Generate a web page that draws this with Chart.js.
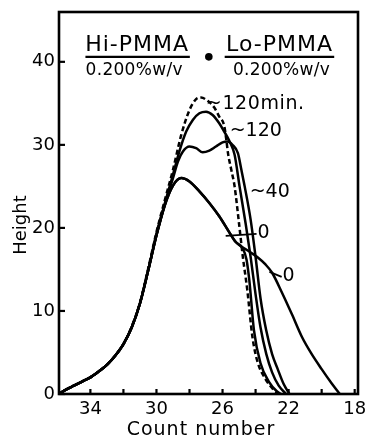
<!DOCTYPE html>
<html>
<head>
<meta charset="utf-8">
<script src="https://cdn.jsdelivr.net/npm/chart.js@4/dist/chart.umd.min.js"></script>
<style>
  html, body { margin: 0; padding: 0; background: #fff; }
  #wrap { width: 365px; height: 439px; position: relative; }
</style>
</head>
<body>
<div id="wrap"><canvas id="c"></canvas></div>
<script>
// ---- data ----
const xTickLabels = [34, 30, 26, 22, 18];
const xMinorTicks = [34, 32, 30, 28, 26, 24, 22, 20, 18];
const yTickLabels = [0, 10, 20, 30, 40];

// dashed "120 min." curve
const dash120X = [35.9, 35.5, 35.0, 34.5, 34.0, 33.5, 33.0, 32.5, 32.0, 31.5, 31.0, 30.5, 30.0, 29.5, 29.0, 28.5, 28.0, 27.6, 27.3, 26.9, 26.5, 26.2, 25.9, 25.77, 25.67, 25.47, 25.27, 25.0, 24.77, 24.5, 24.2, 23.9, 23.4, 22.9, 22.6];
const dash120Y = [0, 0.5, 1.0, 1.5, 2.0, 2.7, 3.5, 4.6, 6.0, 8.1, 11.0, 15.1, 19.5, 23.3, 27.0, 31.2, 34.2, 35.5, 35.7, 35.3, 34.5, 33.4, 32.3, 30.6, 29.0, 27.0, 25.0, 20.5, 16.5, 12.5, 7.0, 4.0, 1.8, 0.5, 0];

// solid "120"
const sol120X = [35.9, 35.5, 35.0, 34.5, 34.0, 33.5, 33.0, 32.5, 32.0, 31.5, 31.0, 30.5, 30.0, 29.5, 29.0, 28.6, 28.2, 27.8, 27.4, 27.0, 26.6, 26.2, 25.9, 25.57, 25.27, 24.97, 24.6, 24.3, 24.0, 23.7, 23.35, 23.0, 22.6, 22.15];
const sol120Y = [0, 0.5, 1.0, 1.5, 2.0, 2.7, 3.5, 4.6, 6.0, 8.0, 10.9, 14.9, 19.2, 22.9, 26.4, 29.3, 31.6, 33.0, 33.8, 34.0, 33.6, 32.6, 31.6, 30.4, 28.8, 25.0, 20.5, 16.5, 12.0, 8.0, 4.8, 2.6, 1.0, 0];

// solid "40"
const sol40X = [35.9, 35.5, 35.0, 34.5, 34.0, 33.5, 33.0, 32.5, 32.0, 31.5, 31.0, 30.5, 30.0, 29.5, 29.0, 28.7, 28.4, 28.0, 27.6, 27.2, 26.8, 26.4, 26.0, 25.7, 25.4, 25.07, 24.86, 24.66, 24.3, 24.0, 23.7, 23.36, 23.0, 22.66, 22.3, 21.95];
const sol40Y = [0, 0.5, 1.0, 1.5, 2.0, 2.7, 3.5, 4.6, 6.0, 8.0, 10.9, 14.9, 19.2, 22.8, 26.0, 28.0, 29.2, 29.8, 29.6, 29.1, 29.3, 29.8, 30.3, 30.4, 30.0, 29.0, 27.0, 25.0, 21.0, 16.5, 11.5, 7.7, 4.8, 3.0, 1.2, 0];

// solid "0" (shoulder, then steep drop)
const sol0aX = [35.9, 35.5, 35.0, 34.5, 34.0, 33.5, 33.0, 32.5, 32.0, 31.5, 31.0, 30.5, 30.0, 29.5, 29.0, 28.5, 28.0, 27.4, 26.8, 26.2, 25.6, 25.2, 24.8, 24.55, 24.38, 24.1, 23.7, 23.2, 22.7, 22.45];
const sol0aY = [0, 0.5, 1.0, 1.5, 2.0, 2.7, 3.5, 4.6, 6.0, 8.0, 10.9, 14.9, 19.1, 22.7, 25.1, 26.0, 25.6, 24.4, 23.0, 21.4, 19.5, 18.3, 17.6, 16.2, 13.7, 7.7, 3.7, 1.5, 0.3, 0];

// solid "0" (wide tail)
const sol0bX = [35.9, 35.5, 35.0, 34.5, 34.0, 33.5, 33.0, 32.5, 32.0, 31.5, 31.0, 30.5, 30.0, 29.5, 29.0, 28.5, 28.0, 27.4, 26.8, 26.2, 25.6, 25.2, 24.5, 23.9, 23.4, 23.0, 22.4, 21.8, 21.2, 20.6, 20.0, 19.4, 18.9];
const sol0bY = [0, 0.5, 1.0, 1.5, 2.0, 2.7, 3.5, 4.6, 6.0, 8.0, 10.9, 14.9, 19.1, 22.7, 25.1, 26.0, 25.6, 24.4, 23.0, 21.4, 19.5, 18.3, 17.3, 16.5, 15.6, 14.6, 12.2, 9.6, 6.9, 4.8, 3.0, 1.3, 0];

const seriesNames = ['120 min. (dashed)', '120', '40', '0', '0 (tail)'];

function pts(xs, ys) { return xs.map((x, i) => ({ x: x, y: ys[i] })); }

const FONT = '"DejaVu Sans", sans-serif';

const base = {
  showLine: true, pointRadius: 0, borderColor: '#000', backgroundColor: '#000',
  borderWidth: 2.5, cubicInterpolationMode: 'monotone', fill: false
};

const decor = {
  id: 'decor',
  afterDraw(chart) {
    const ctx = chart.ctx;
    const xs = chart.scales.x, ys = chart.scales.y;
    const a = chart.chartArea;
    const X = v => xs.getPixelForValue(v), Y = v => ys.getPixelForValue(v);
    ctx.save();
    // frame
    ctx.strokeStyle = '#000';
    ctx.lineWidth = 2.6;
    ctx.strokeRect(a.left, a.top, a.right - a.left, a.bottom - a.top);
    // inward ticks
    ctx.lineWidth = 2.2;
    xMinorTicks.forEach(v => {
      const px = X(v);
      ctx.beginPath(); ctx.moveTo(px, a.bottom); ctx.lineTo(px, a.bottom - 5); ctx.stroke();
    });
    yTickLabels.forEach(v => {
      const py = Y(v);
      ctx.beginPath(); ctx.moveTo(a.left, py); ctx.lineTo(a.left + 6, py); ctx.stroke();
    });
    // axis titles
    ctx.fillStyle = '#000';
    ctx.textAlign = 'center';
    ctx.textBaseline = 'middle';
    ctx.font = '19px ' + FONT;
    ctx.letterSpacing = '1px';
    ctx.fillText('Count number', 201, 430);
    ctx.letterSpacing = '0px';
    ctx.save();
    ctx.translate(21, 225);
    ctx.rotate(-Math.PI / 2);
    ctx.font = '18px ' + FONT;
    ctx.fillText('Height', 0, 0);
    ctx.restore();

    // header block
    ctx.font = '22px ' + FONT;
    ctx.letterSpacing = '1px';
    ctx.fillText('Hi-PMMA', X(31.17), Y(42.05));
    ctx.fillText('Lo-PMMA', X(22.55), Y(42.05));
    ctx.lineWidth = 2.2;
    ctx.beginPath(); ctx.moveTo(X(34.3), Y(40.6)); ctx.lineTo(X(27.98), Y(40.6)); ctx.stroke();
    ctx.beginPath(); ctx.moveTo(X(25.87), Y(40.6)); ctx.lineTo(X(19.24), Y(40.6)); ctx.stroke();
    ctx.font = '17px ' + FONT;
    ctx.letterSpacing = '0.3px';
    ctx.fillText('0.200%w/v', X(31.35), Y(39.0));
    ctx.fillText('0.200%w/v', X(22.43), Y(39.0));
    ctx.letterSpacing = '0px';
    ctx.beginPath(); ctx.arc(X(26.83), Y(40.6), 3.8, 0, Math.PI * 2); ctx.fill();

    // curve labels
    ctx.textAlign = 'left';
    ctx.font = '19px ' + FONT;
    ctx.letterSpacing = '0.6px';
    ctx.fillText('~120min.', X(27.01), Y(34.94));
    ctx.letterSpacing = '0px';
    ctx.fillText('~120', X(25.57), Y(31.69));
    ctx.fillText('~40', X(24.36), Y(24.34));
    ctx.fillText('0', X(23.88), Y(19.4));
    ctx.fillText('0', X(22.37), Y(14.22));
    ctx.lineWidth = 1.8;
    ctx.beginPath(); ctx.moveTo(X(25.81), Y(19.04)); ctx.lineTo(X(23.94), Y(19.28)); ctx.stroke();
    ctx.beginPath(); ctx.moveTo(X(23.16), Y(14.7)); ctx.lineTo(X(22.42), Y(14.1)); ctx.stroke();
    ctx.restore();
  }
};

new Chart(document.getElementById('c'), {
  type: 'scatter',
  data: {
    datasets: [
      Object.assign({}, base, { label: seriesNames[0], data: pts(dash120X, dash120Y), borderDash: [5, 3] }),
      Object.assign({}, base, { label: seriesNames[1], data: pts(sol120X, sol120Y) }),
      Object.assign({}, base, { label: seriesNames[2], data: pts(sol40X, sol40Y) }),
      Object.assign({}, base, { label: seriesNames[3], data: pts(sol0aX, sol0aY) }),
      Object.assign({}, base, { label: seriesNames[4], data: pts(sol0bX, sol0bY) })
    ]
  },
  options: {
    responsive: true,
    maintainAspectRatio: false,
    animation: false,
    layout: { padding: { top: 12, right: 7, left: 0, bottom: 0 } },
    plugins: { legend: { display: false }, tooltip: { enabled: false } },
    scales: {
      x: {
        type: 'linear', reverse: true, min: 17.8, max: 35.9,
        grid: { display: false, drawTicks: false },
        border: { display: false },
        afterBuildTicks: s => { s.ticks = xTickLabels.map(v => ({ value: v })); },
        afterFit: s => { s.height = 45; s.paddingLeft = 0; s.paddingRight = 0; },
        ticks: { color: '#000', padding: 5, font: { family: FONT, size: 18 }, maxRotation: 0, autoSkip: false }
      },
      y: {
        type: 'linear', min: 0, max: 46,
        grid: { display: false, drawTicks: false },
        border: { display: false },
        afterBuildTicks: s => { s.ticks = yTickLabels.map(v => ({ value: v })); },
        afterFit: s => { s.width = 59; s.paddingTop = 0; s.paddingBottom = 0; },
        ticks: { color: '#000', padding: 4, font: { family: FONT, size: 18 }, autoSkip: false }
      }
    }
  },
  plugins: [decor]
});
</script>
</body>
</html>
